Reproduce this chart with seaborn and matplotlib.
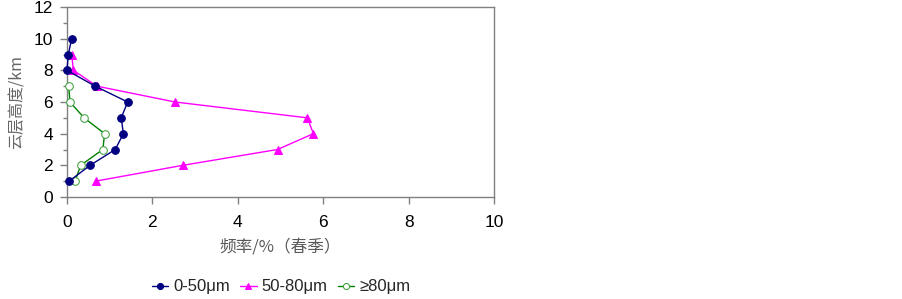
import matplotlib
matplotlib.use("Agg")
import matplotlib.pyplot as plt
import seaborn as sns
from matplotlib.ticker import MultipleLocator

# Data
heights_a = [10, 9, 8, 7, 6, 5, 4, 3, 2, 1]
freq_a = [0.11, 0.03, 0.0, 0.66, 1.42, 1.27, 1.32, 1.13, 0.54, 0.05]
heights_b = [9, 8, 7, 6, 5, 4, 3, 2, 1]
freq_b = [0.11, 0.15, 0.70, 2.53, 5.63, 5.77, 4.93, 2.71, 0.67]
heights_c = [7, 6, 5, 4, 3, 2, 1]
freq_c = [0.04, 0.07, 0.40, 0.88, 0.84, 0.32, 0.19]
labels = ["0-50μm", "50-80μm", "≥80μm"]

sns.set_style("ticks")
plt.rcParams['font.family'] = ['Liberation Sans', 'Noto Sans CJK SC', 'DejaVu Sans']

fig = plt.figure(figsize=(9.03, 2.99), dpi=100)
ax = fig.add_axes([67/903, 1-197/299, (494-67)/903, (197-7)/299])

sns.lineplot(x=freq_a, y=heights_a, sort=False, estimator=None, ax=ax,
             color="#000080", lw=1, marker="o", markersize=5.5,
             markeredgecolor="#000080", label=labels[0], clip_on=False, zorder=4)
sns.lineplot(x=freq_b, y=heights_b, sort=False, estimator=None, ax=ax,
             color="#FF00FF", lw=1, marker="^", markersize=6,
             markeredgecolor="#FF00FF", label=labels[1], clip_on=False, zorder=3)
sns.lineplot(x=freq_c, y=heights_c, sort=False, estimator=None, ax=ax,
             color="#008000", lw=1, marker="o", markersize=5.5,
             markerfacecolor="white", markeredgecolor="#40a040", label=labels[2],
             clip_on=False, zorder=3)

ax.set_xlim(0, 10)
ax.set_ylim(0, 12)
ax.xaxis.set_major_locator(MultipleLocator(2))
ax.yaxis.set_major_locator(MultipleLocator(2))
ax.yaxis.set_minor_locator(MultipleLocator(1))
ax.tick_params(axis='both', which='major', length=5, width=1, labelsize=12.5,
               color='#808080', labelcolor='black')
ax.tick_params(axis='x', which='major', pad=8)
ax.tick_params(axis='y', which='major', pad=5)
ax.tick_params(axis='y', which='minor', length=3, width=1, color='#808080')
for s in ['top', 'right', 'left', 'bottom']:
    ax.spines[s].set_visible(True)
    ax.spines[s].set_color('#808080')
    ax.spines[s].set_linewidth(1)

ax.set_xlabel("频率/%（春季）", fontsize=12, color="#595959",
              family=['Noto Sans CJK SC', 'DejaVu Sans'], labelpad=6)
ax.set_ylabel("云层高度/km", fontsize=11.5, color="#666666",
              family=['Noto Sans CJK SC', 'DejaVu Sans'], labelpad=6)

ax.get_legend().remove()
h, l = ax.get_legend_handles_labels()
fig.legend(h, l, loc='center', bbox_to_anchor=(281/903, 1-287/299), ncol=3,
           frameon=False, handlelength=1.0, handletextpad=0.3,
           columnspacing=0.6, markerscale=0.8,
           prop={'family': ['Liberation Sans', 'Noto Sans CJK SC', 'DejaVu Sans'], 'size': 12})

fig.savefig("out.png", dpi=100)
